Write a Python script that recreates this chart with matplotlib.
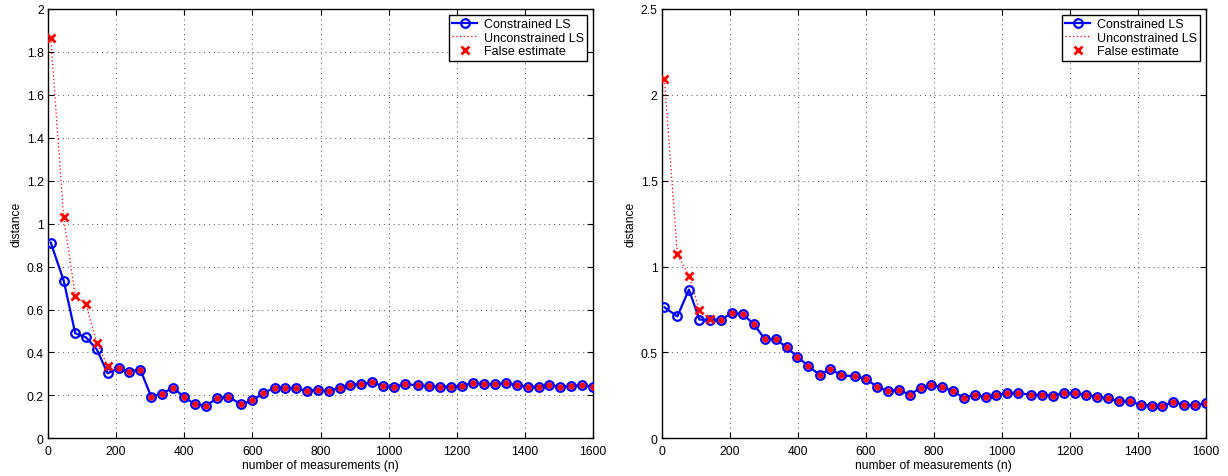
import numpy as np
import matplotlib
matplotlib.use("Agg")
import matplotlib.pyplot as plt
from matplotlib.ticker import FuncFormatter, MultipleLocator

plt.rcParams["font.family"] = ["Liberation Sans", "DejaVu Sans"]
plt.rcParams["font.size"] = 8.7

# number of measurements
N = [8, 46, 80, 111, 143, 175, 207, 239, 271, 303, 335, 367, 399, 431, 464, 496,
     528, 568, 600, 632, 665, 697, 729, 761, 792, 824, 856, 888, 920, 952, 984, 1016,
     1048, 1087, 1119, 1151, 1184, 1216, 1248, 1280, 1312, 1344, 1376, 1408, 1440,
     1472, 1504, 1536, 1568, 1600]

# left experiment
con_a = [0.912, 0.735, 0.489, 0.471, 0.415, 0.303, 0.326, 0.311, 0.320, 0.194,
         0.208, 0.236, 0.193, 0.158, 0.152, 0.186, 0.194, 0.158, 0.177, 0.210,
         0.236, 0.233, 0.233, 0.220, 0.227, 0.219, 0.236, 0.250, 0.253, 0.261,
         0.242, 0.241, 0.252, 0.247, 0.242, 0.241, 0.239, 0.245, 0.259, 0.253,
         0.253, 0.258, 0.248, 0.241, 0.239, 0.250, 0.239, 0.245, 0.247, 0.241]
unc_a = [1.866, 1.029, 0.664, 0.627, 0.446, 0.337, 0.326, 0.311, 0.320, 0.194,
         0.208, 0.236, 0.193, 0.158, 0.152, 0.186, 0.194, 0.158, 0.177, 0.210,
         0.236, 0.233, 0.233, 0.220, 0.227, 0.219, 0.236, 0.250, 0.253, 0.261,
         0.242, 0.241, 0.252, 0.247, 0.242, 0.241, 0.239, 0.245, 0.259, 0.253,
         0.253, 0.258, 0.248, 0.241, 0.239, 0.250, 0.239, 0.245, 0.247, 0.241]

# right experiment
con_b = [0.763, 0.710, 0.866, 0.691, 0.690, 0.690, 0.732, 0.722, 0.664, 0.578,
         0.578, 0.530, 0.474, 0.421, 0.369, 0.404, 0.367, 0.361, 0.347, 0.301,
         0.274, 0.283, 0.254, 0.294, 0.308, 0.299, 0.274, 0.236, 0.253, 0.241,
         0.251, 0.264, 0.264, 0.253, 0.255, 0.249, 0.264, 0.261, 0.251, 0.243,
         0.232, 0.216, 0.216, 0.195, 0.189, 0.189, 0.212, 0.195, 0.193, 0.205]
unc_b = [2.090, 1.071, 0.947, 0.745, 0.695, 0.690, 0.732, 0.722, 0.664, 0.578,
         0.578, 0.530, 0.474, 0.421, 0.369, 0.404, 0.367, 0.361, 0.347, 0.301,
         0.274, 0.283, 0.254, 0.294, 0.308, 0.299, 0.274, 0.236, 0.253, 0.241,
         0.251, 0.264, 0.264, 0.253, 0.255, 0.249, 0.264, 0.261, 0.251, 0.243,
         0.232, 0.216, 0.216, 0.195, 0.189, 0.189, 0.212, 0.195, 0.193, 0.205]
# the first unconstrained estimates of the right run are false
false_b = 5


def fmt(v, pos):
    return f"{v:g}"


def panel(ax, n, con, unc, n_false, ymax, ystep):
    n = np.asarray(n)
    con = np.asarray(con)
    unc = np.asarray(unc)
    if n_false is None:
        bad = np.abs(unc - con) > 1e-9
    else:
        bad = np.arange(len(n)) < n_false

    h_unc, = ax.plot(n, unc, color="red", ls=(0, (1, 2)), lw=0.9, zorder=2,
                     label="Unconstrained LS")
    h_con, = ax.plot(n, con, color="blue", lw=1.6, marker="o", ms=6.2,
                     mfc="none", mec="blue", mew=1.6, zorder=3,
                     label="Constrained LS")
    ax.plot(n[~bad], unc[~bad], ls="none", marker="o", ms=4.0, mfc="red",
            mec="red", mew=0.5, zorder=4)
    h_false, = ax.plot(n[bad], unc[bad], ls="none", marker="x", ms=6,
                       mew=2.0, color="red", zorder=5, label="False estimate")

    ax.set_xlim(0, 1600)
    ax.set_ylim(0, ymax)
    ax.xaxis.set_major_locator(MultipleLocator(200))
    ax.yaxis.set_major_locator(MultipleLocator(ystep))
    ax.xaxis.set_major_formatter(FuncFormatter(fmt))
    ax.yaxis.set_major_formatter(FuncFormatter(fmt))
    ax.tick_params(direction="in", length=4, width=0.8, top=True, right=True,
                   labelsize=8.7)
    ax.tick_params(axis="x", pad=4.5)
    ax.tick_params(axis="y", pad=3)
    ax.grid(True, ls=(0, (1, 4)), color="0.3", lw=0.7)
    for s in ax.spines.values():
        s.set_linewidth(1.0)
    ax.set_xlabel("number of measurements (n)", labelpad=2)
    ax.set_ylabel("distance", labelpad=3)

    leg = ax.legend(handles=[h_con, h_unc, h_false], loc="upper right",
                    fontsize=9, frameon=True, fancybox=False,
                    borderaxespad=0.45, borderpad=0.3, labelspacing=0.1,
                    handlelength=2.0, handletextpad=0.5)
    leg.get_frame().set_edgecolor("black")
    leg.get_frame().set_linewidth(1.0)
    leg.get_frame().set_alpha(1)


fig = plt.figure(figsize=(12.28, 4.77), dpi=100)
ax1 = fig.add_axes([48 / 1228, 37.7 / 477, 545 / 1228, 429.3 / 477])
ax2 = fig.add_axes([661.7 / 1228, 37.7 / 477, 544.3 / 1228, 429.3 / 477])

panel(ax1, N, con_a, unc_a, None, 2, 0.2)
panel(ax2, N, con_b, unc_b, false_b, 2.5, 0.5)

fig.savefig("out.png", dpi=100)
